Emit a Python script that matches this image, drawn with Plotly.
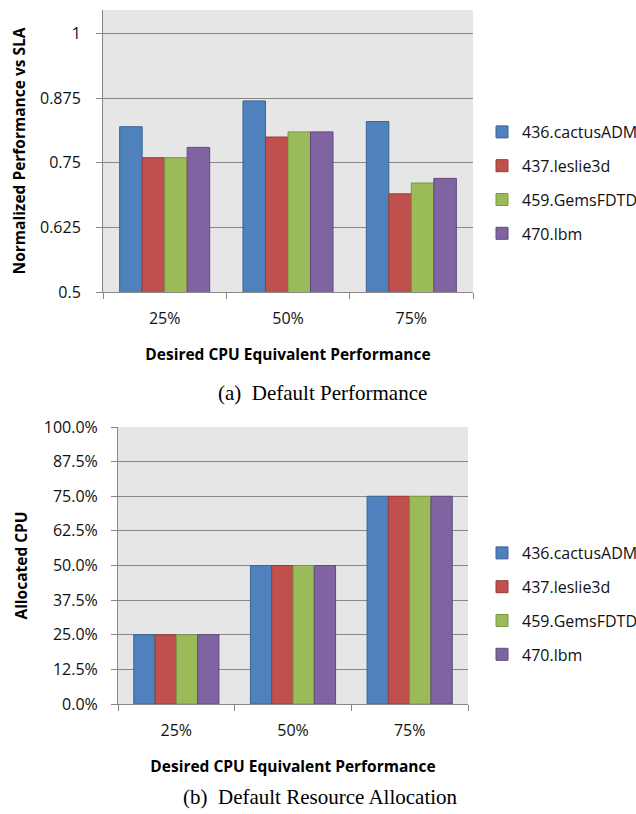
import plotly.graph_objects as go

categories = ["25%", "50%", "75%"]
series_names = ["436.cactusADM", "437.leslie3d", "459.GemsFDTD", "470.lbm"]
colors = ["#4F81BD", "#C0504D", "#9BBB59", "#8064A2"]
outline = ["#3A6596", "#9B3B38", "#7A9743", "#5F4A7E"]

perf_values = [
    [0.820, 0.870, 0.830],
    [0.760, 0.800, 0.690],
    [0.760, 0.810, 0.711],
    [0.780, 0.810, 0.720],
]
alloc_values = [
    [0.25, 0.50, 0.75],
    [0.25, 0.50, 0.75],
    [0.25, 0.50, 0.75],
    [0.25, 0.50, 0.75],
]

perf_ticks = [0.5, 0.625, 0.75, 0.875, 1]
perf_ticklabels = ["0.5", "0.625", "0.75", "0.875", "1"]
alloc_ticks = [0, 0.125, 0.25, 0.375, 0.5, 0.625, 0.75, 0.875, 1.0]
alloc_ticklabels = ["0.0%", "12.5%", "25.0%", "37.5%", "50.0%", "62.5%", "75.0%", "87.5%", "100.0%"]

W, H = 636, 814
def fy(px):
    return 1 - px / H

fig = go.Figure()
for i, name in enumerate(series_names):
    fig.add_trace(go.Bar(x=categories, y=perf_values[i], name=name,
                         marker=dict(color=colors[i], line=dict(color=outline[i], width=1)),
                         xaxis="x", yaxis="y", legend="legend", legendgroup="a" + str(i)))
for i, name in enumerate(series_names):
    fig.add_trace(go.Bar(x=categories, y=alloc_values[i], name=name,
                         marker=dict(color=colors[i], line=dict(color=outline[i], width=1)),
                         xaxis="x2", yaxis="y2", legend="legend2", legendgroup="b" + str(i)))

font_sans = "'Open Sans', Lato, sans-serif"
axis_common = dict(showline=True, linecolor="#878787", linewidth=1, ticks="outside", automargin=False,
                   tickcolor="#878787", ticklen=6, tickfont=dict(family=font_sans, size=16, color="#111"))
grid = dict(showgrid=True, gridcolor="#878787", gridwidth=1, zeroline=False)
title_font = dict(family=font_sans, size=15.5, color="black")

legend_common = dict(font=dict(family=font_sans, size=16, color="#111"), bgcolor="rgba(0,0,0,0)",
                     xanchor="left", yanchor="top", traceorder="grouped", tracegroupgap=10,
                     itemwidth=30)

serif = dict(family="'Liberation Serif', 'Times New Roman', serif", size=21, color="black")

fig.update_layout(
    width=W, height=H, margin=dict(l=0, r=0, t=0, b=0, autoexpand=False),
    paper_bgcolor="white", plot_bgcolor="#E6E6E6",
    barmode="group", bargap=0.27, bargroupgap=0,
    xaxis=dict(domain=[103 / W, 473 / W], anchor="y", tickson="boundaries", ticklabelstandoff=12,
               **axis_common,
               title=dict(text="<b>Desired CPU Equivalent Performance</b>", standoff=20, font=title_font)),
    yaxis=dict(domain=[fy(292), fy(10)], anchor="x", range=[0.5, 1.046], tickvals=perf_ticks,
               ticktext=perf_ticklabels, ticklabelstandoff=12, **axis_common, **grid,
               title=dict(text="<b>Normalized Performance vs SLA</b>", standoff=10, font=title_font)),
    xaxis2=dict(domain=[118 / W, 468 / W], anchor="y2", tickson="boundaries", ticklabelstandoff=12,
                **axis_common,
                title=dict(text="<b>Desired CPU Equivalent Performance</b>", standoff=20, font=title_font)),
    yaxis2=dict(domain=[fy(704), fy(427)], anchor="x2", range=[0, 1.0], tickvals=alloc_ticks,
                ticktext=alloc_ticklabels, ticklabelstandoff=10, **axis_common, **grid,
                title=dict(text="<b>Allocated CPU</b>", standoff=12, font=title_font)),
    legend=dict(x=482 / W, y=fy(115), **legend_common),
    legend2=dict(x=482 / W, y=fy(536), **legend_common),
    annotations=[
        dict(text="(a)  Default Performance", x=322 / W, y=fy(393), xref="paper", yref="paper",
             xanchor="center", yanchor="middle", showarrow=False, font=serif),
        dict(text="(b)  Default Resource Allocation", x=320 / W, y=fy(797), xref="paper", yref="paper",
             xanchor="center", yanchor="middle", showarrow=False, font=serif),
    ],
)

fig.write_html("out.html")
